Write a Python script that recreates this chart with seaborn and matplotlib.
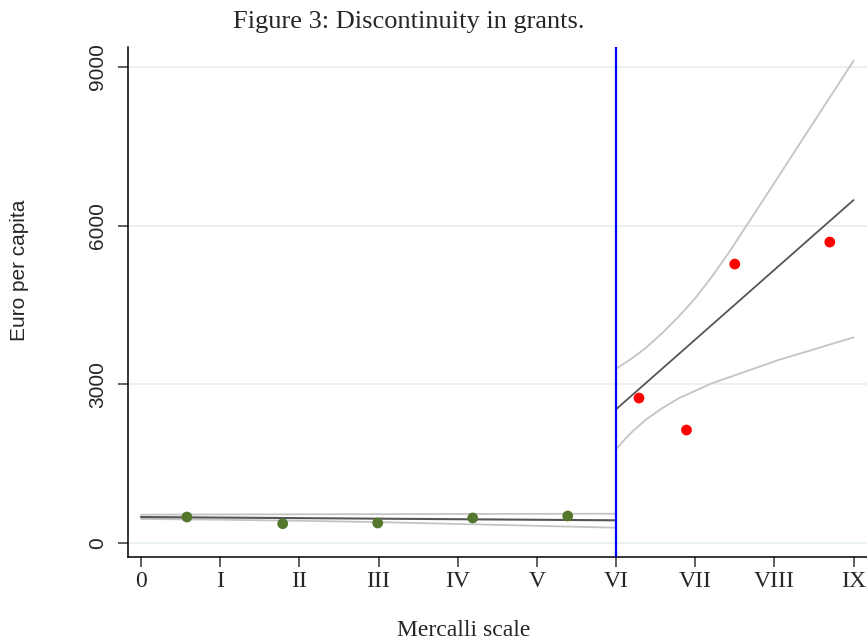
import matplotlib
matplotlib.use("Agg")
import matplotlib.pyplot as plt
import seaborn as sns

# Municipality averages below and above the threshold
low_x = [0.58, 1.79, 2.99, 4.19, 5.39]
low_y = [491, 365, 378, 473, 510]
high_x = [6.29, 6.89, 7.50, 8.70]
high_y = [2741, 2136, 5274, 5690]

# Fitted lines and confidence bands on each side of the cutoff
left_fit_x = [0, 6]
left_fit_y = [491, 429]
left_ci_x = [0, 1, 2, 3, 4, 5, 6]
left_ci_hi = [535, 540, 543, 546, 549, 551, 554]
left_ci_lo = [455, 440, 420, 395, 360, 325, 289]

right_fit_x = [6, 9]
right_fit_y = [2527, 6484]
right_ci_hi_x = [6.01, 6.20, 6.37, 6.58, 6.79, 7.00, 7.21, 7.42, 7.63, 7.84, 8.42, 9.00]
right_ci_hi = [3302, 3491, 3680, 3964, 4279, 4626, 5034, 5480, 5960, 6440, 7780, 9117]
right_ci_lo_x = [6.01, 6.16, 6.37, 6.58, 6.79, 7.21, 7.63, 8.05, 8.47, 9.00]
right_ci_lo = [1790, 2042, 2325, 2546, 2735, 3019, 3238, 3459, 3648, 3888]

cutoff = 6
y_ticks = [0, 3000, 6000, 9000]
x_ticks = list(range(10))
x_labels = ["0", "I", "II", "III", "IV", "V", "VI", "VII", "VIII", "IX"]

sns.set_theme(style="white")
plt.rcParams["font.family"] = ["Liberation Serif", "DejaVu Serif"]

fig = plt.figure(figsize=(8.67, 6.42), dpi=100)
ax = fig.add_axes([128 / 867, 1 - 556.7 / 642, 1 - 128 / 867, (556.7 - 47) / 642])

for yt in y_ticks:
    ax.axhline(yt, color="#e8f0f2", lw=1.3, zorder=0)

ci_col = "#c4c4c4"
fit_col = "#555555"
sns.lineplot(x=left_ci_x, y=left_ci_hi, ax=ax, color=ci_col, lw=1.3, zorder=2)
sns.lineplot(x=left_ci_x, y=left_ci_lo, ax=ax, color=ci_col, lw=1.3, zorder=2)
sns.lineplot(x=left_fit_x, y=left_fit_y, ax=ax, color=fit_col, lw=1.5, zorder=3)
sns.lineplot(x=right_ci_hi_x, y=right_ci_hi, ax=ax, color=ci_col, lw=1.3, zorder=2)
sns.lineplot(x=right_ci_lo_x, y=right_ci_lo, ax=ax, color=ci_col, lw=1.3, zorder=2)
sns.lineplot(x=right_fit_x, y=right_fit_y, ax=ax, color=fit_col, lw=1.3, zorder=3)

sns.scatterplot(x=low_x, y=low_y, ax=ax, color="#52772d", s=60, edgecolor="none", zorder=4)
sns.scatterplot(x=high_x, y=high_y, ax=ax, color="#ff0000", s=60, edgecolor="none", zorder=4)

ax.axvline(cutoff, color="#0000ff", lw=1.6, zorder=5)

ax.set_xlim(-0.164, 9.17)
ax.set_ylim(-259, 9378)
ax.set_yticks(y_ticks)
ax.set_yticklabels([str(v) for v in y_ticks], rotation=90, va="center",
                   family="Liberation Sans", fontsize=15)
ax.set_xticks(x_ticks)
ax.set_xticklabels(x_labels, fontsize=17)
ax.tick_params(axis="both", direction="out", length=7, width=1.1, color="#333333",
               bottom=True, left=True)
ax.tick_params(axis="y", pad=8)
ax.tick_params(axis="x", pad=3)

for side in ["top", "right"]:
    ax.spines[side].set_visible(False)
for side in ["left", "bottom"]:
    ax.spines[side].set_color("black")
    ax.spines[side].set_linewidth(1.1)

fig.text(20 / 867, 1 - 270 / 642, "Euro per capita", rotation=90, ha="center", va="center",
         family="Liberation Sans", fontsize=15)
fig.text(464 / 867, 1 - 630 / 642, "Mercalli scale", ha="center", va="center", fontsize=17)
fig.text(409 / 867, 1 - 22 / 642, "Figure 3: Discontinuity in grants.", ha="center",
         va="center", fontsize=19)

fig.savefig("out.png", dpi=100, facecolor="white")
